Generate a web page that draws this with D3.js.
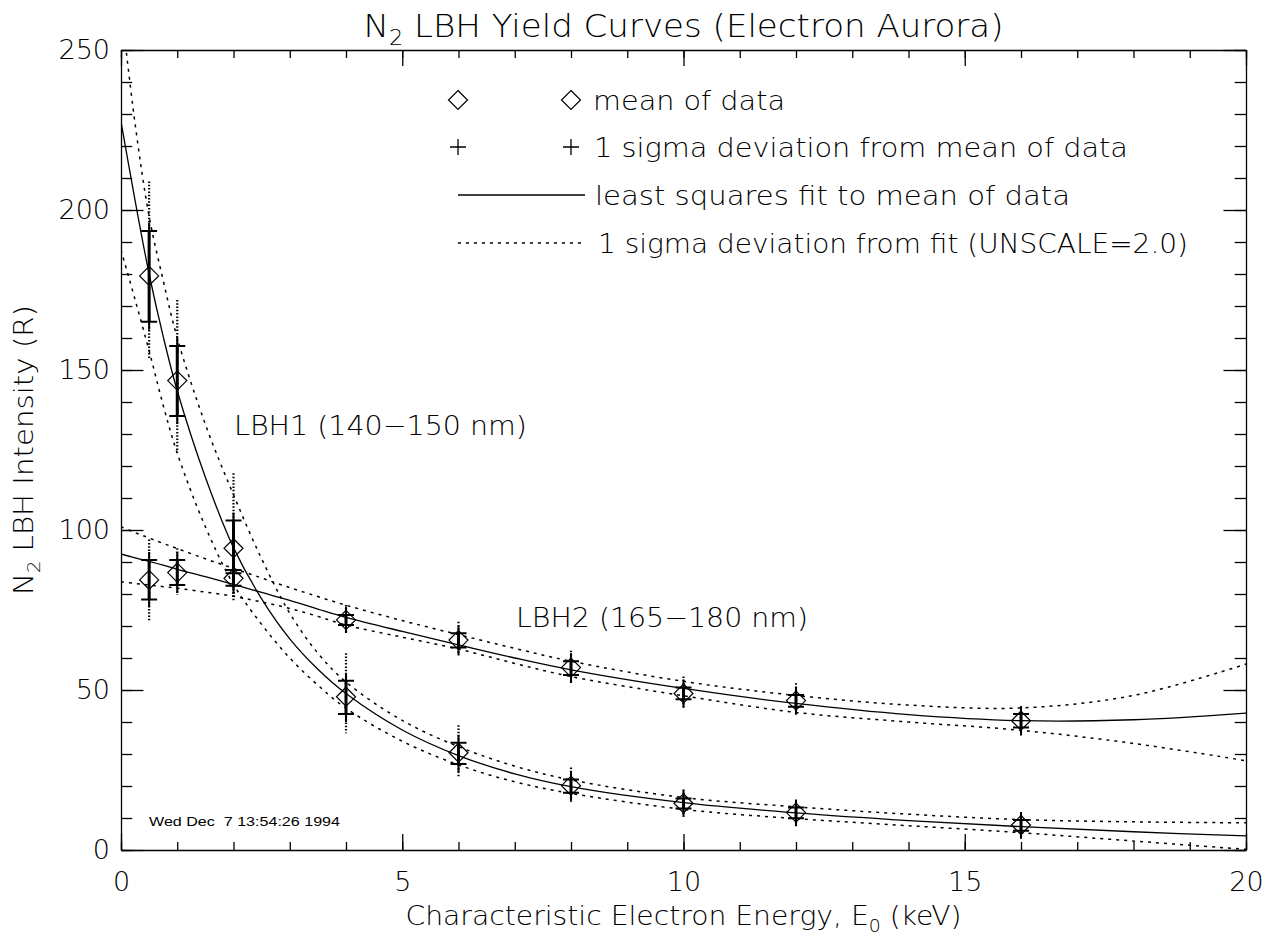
<!DOCTYPE html>
<html>
<head>
<meta charset="utf-8">
<script src="https://cdn.jsdelivr.net/npm/d3@7"></script>
<style>
  body { margin: 0; background: #fff; }
  svg text { font-family: "DejaVu Sans", "Liberation Sans", sans-serif; font-weight: 200; fill: #000; }
  .tick text { font-size: 27px; }
  .stamp { font-family: "Liberation Sans", sans-serif !important; font-weight: 400 !important; font-size: 13px; white-space: pre; }
</style>
</head>
<body>
<script>
// Size of the page and of the plot box
var width = 1275,
    height = 939;
var boxL = 121, boxR = 1246, boxT = 50, boxB = 850;

// Energies where the data were taken (keV)
var energies = [0.5, 1, 2, 4, 6, 8, 10, 12, 16];

// LBH1 (140-150 nm): mean, 1 sigma of data, and spread of the individual points
var lbh1Mean   = [179.4, 146.7, 94.3, 47.9, 30.4, 20.1, 14.6, 11.7, 7.8];
var lbh1SigHi  = [193.4, 157.5, 103.0, 52.9, 33.5, 22.0, 16.1, 13.3, 9.4];
var lbh1SigLo  = [165.1, 135.6, 86.5, 42.5, 26.9, 17.9, 13.0, 9.9, 6.0];
var lbh1DataHi = [208.9, 171.9, 117.7, 61.5, 39.0, 25.8, 18.9, 15.1, 10.9];
var lbh1DataLo = [153.7, 124.2, 78.0, 36.5, 22.9, 15.1, 10.4, 7.8, 4.2];

// LBH2 (165-180 nm)
var lbh2Mean   = [84.4, 86.7, 84.9, 71.9, 65.6, 57.0, 48.9, 46.7, 40.4];
var lbh2SigHi  = [90.6, 90.6, 87.5, 73.4, 67.7, 59.0, 50.8, 48.4, 42.5];
var lbh2SigLo  = [78.3, 82.8, 82.6, 70.3, 63.3, 54.7, 47.1, 44.8, 38.3];
var lbh2DataHi = [97.0, 94.3, 92.0, 76.6, 71.3, 62.3, 54.2, 52.1, 44.6];
var lbh2DataLo = [71.6, 79.7, 79.0, 68.0, 60.9, 52.6, 44.3, 42.5, 36.3];

// Fit curves at these energies
var fitX      = [0, 0.25, 0.5, 0.75, 1, 1.5, 2, 2.5, 3, 3.5, 4, 5, 6, 7, 8, 10, 12, 14, 16, 18, 20];
var lbh1Fit   = [227.6, 203, 180, 160.5, 143.5, 116.5, 94.5, 78.5, 66, 56.5, 48.9, 37.5, 29.5, 23.8, 19.8, 14.8, 11.6, 9.2, 7.3, 5.7, 4.4];
var lbh1FitHi = [264, 227, 198, 178, 160, 133, 111, 91, 74, 61.5, 52.5, 40.5, 32.3, 26.2, 21.9, 16.4, 13.5, 11.2, 9.5, 8.8, 8.5];
var lbh1FitLo = [187.5, 172, 156, 139, 124, 101, 83, 70.5, 60, 51.5, 44.3, 34, 26.6, 21.3, 17.7, 12.7, 9.8, 7.6, 5.4, 2.8, 0.2];
var lbh2Fit   = [92.5, 91.3, 90.2, 89, 87.7, 85.4, 83, 80.5, 78, 75.3, 72.7, 68.3, 64.1, 60, 56.3, 50.5, 45.8, 42.3, 40.4, 40.7, 42.8];
var lbh2FitHi = [101, 99.2, 97.5, 95.8, 94.2, 91, 88, 85, 82, 79.2, 76.5, 71.7, 67.3, 63, 59, 52.7, 48.3, 45.3, 44.4, 48.3, 58.1];
var lbh2FitLo = [83.8, 83.3, 82.8, 82.3, 81.8, 80.6, 79.3, 77.5, 75.5, 73, 70.3, 66.5, 62.8, 58.3, 54.2, 48.2, 43, 40, 37.4, 33.3, 27.9];

// Tick values
var xMajor = [0, 5, 10, 15, 20];
var yMajor = [0, 50, 100, 150, 200, 250];

// Legend entries
var legendText = ["mean of data", "1 sigma deviation from mean of data",
                  "least squares fit to mean of data", "1 sigma deviation from fit (UNSCALE=2.0)"];

var svg = d3.select("body")
    .append("svg")
    .attr("width", width)
    .attr("height", height);

var x = d3.scaleLinear().domain([0, 20]).range([boxL, boxR]);
var y = d3.scaleLinear().domain([0, 250]).range([boxB, boxT]);

// clip so the curves stop at the frame
svg.append("clipPath").attr("id", "box")
    .append("rect").attr("x", boxL).attr("y", boxT)
    .attr("width", boxR - boxL).attr("height", boxB - boxT);

// ---- axes: ticks on all four sides, pointing inward ----
var xLen = 0.02 * (boxB - boxT), yLen = 0.02 * (boxR - boxL);
var minorX = d3.range(0, 21, 1), minorY = d3.range(0, 251, 10);

function addAxis(axis, tx, ty) {
    var g = svg.append("g").attr("transform", "translate(" + tx + "," + ty + ")").call(axis);
    g.selectAll("path,line").attr("stroke", "#000").attr("stroke-width", 1.3);
    return g;
}
// bottom
addAxis(d3.axisBottom(x).tickValues(minorX).tickSize(-xLen / 2).tickFormat(""), 0, boxB).select(".domain").remove();
addAxis(d3.axisBottom(x).tickValues(xMajor).tickSize(-xLen).tickSizeOuter(0).tickPadding(22).tickFormat(d3.format("d")), 0, boxB);
// top
addAxis(d3.axisTop(x).tickValues(minorX).tickSize(-xLen / 2).tickFormat(""), 0, boxT).select(".domain").remove();
addAxis(d3.axisTop(x).tickValues(xMajor).tickSize(-xLen).tickSizeOuter(0).tickFormat(""), 0, boxT);
// left
addAxis(d3.axisLeft(y).tickValues(minorY).tickSize(-yLen / 2).tickFormat(""), boxL, 0).select(".domain").remove();
var yAx = addAxis(d3.axisLeft(y).tickValues(yMajor).tickSize(-yLen).tickSizeOuter(0).tickPadding(11).tickFormat(d3.format("d")), boxL, 0);
// right
addAxis(d3.axisRight(y).tickValues(minorY).tickSize(-yLen / 2).tickFormat(""), boxR, 0).select(".domain").remove();
addAxis(d3.axisRight(y).tickValues(yMajor).tickSize(-yLen).tickSizeOuter(0).tickFormat(""), boxR, 0);

svg.selectAll(".tick text").attr("font-family", null).attr("font-size", null);
yAx.selectAll(".tick text").attr("dy", "0.3em");

// ---- fit curves ----
var plot = svg.append("g").attr("clip-path", "url(#box)");
var line = d3.line().x(function(d) { return x(d[0]); }).y(function(d) { return y(d[1]); })
    .curve(d3.curveCatmullRom.alpha(0.5));
var dash = "3,5";

function drawCurve(vals, dotted) {
    plot.append("path")
        .attr("d", line(fitX.map(function(e, i) { return [e, vals[i]]; })))
        .attr("fill", "none")
        .attr("stroke", "#000")
        .attr("stroke-width", dotted ? 1.5 : 1.3)
        .attr("stroke-dasharray", dotted ? dash : null);
}
[lbh1FitHi, lbh1FitLo, lbh2FitHi, lbh2FitLo].forEach(function(v) { drawCurve(v, true); });
[lbh1Fit, lbh2Fit].forEach(function(v) { drawCurve(v, false); });

// ---- data: point columns, sigma pluses, mean diamonds ----
var diamond = "M0,-9.5L9.5,0L0,9.5L-9.5,0Z";
function plus(g, cx, cy, w) {
    g.append("path").attr("d", "M" + (cx - 8) + "," + cy + "H" + (cx + 8) + "M" + cx + "," + (cy - 8) + "V" + (cy + 8))
        .attr("stroke", "#000").attr("stroke-width", w).attr("fill", "none");
}

function drawSeries(mean, sHi, sLo, dHi, dLo) {
    var g = plot.append("g");
    energies.forEach(function(e, i) {
        var cx = x(e);
        // all the individual points: dotted column
        g.append("line").attr("x1", cx).attr("x2", cx).attr("y1", y(dHi[i])).attr("y2", y(dLo[i]))
            .attr("stroke", "#000").attr("stroke-width", 2.2).attr("stroke-dasharray", "1.5,1.8");
        // dense core of points between the sigma marks
        g.append("line").attr("x1", cx).attr("x2", cx).attr("y1", y(sHi[i])).attr("y2", y(sLo[i]))
            .attr("stroke", "#000").attr("stroke-width", 3);
        plus(g, cx, y(sHi[i]), 2);
        plus(g, cx, y(sLo[i]), 2);
        g.append("path").attr("d", diamond)
            .attr("transform", "translate(" + cx + "," + y(mean[i]) + ")")
            .attr("fill", "none").attr("stroke", "#000").attr("stroke-width", 1.2);
    });
}
drawSeries(lbh1Mean, lbh1SigHi, lbh1SigLo, lbh1DataHi, lbh1DataLo);
drawSeries(lbh2Mean, lbh2SigHi, lbh2SigLo, lbh2DataHi, lbh2DataLo);

// ---- legend ----
var lx1 = 458, lx2 = 571, ly = [100, 147, 195, 243];
var leg = svg.append("g");
leg.selectAll("path.dm").data([lx1, lx2]).enter().append("path")
    .attr("d", diamond).attr("transform", function(d) { return "translate(" + d + "," + ly[0] + ")"; })
    .attr("fill", "none").attr("stroke", "#000").attr("stroke-width", 1.2);
plus(leg, lx1, ly[1], 1.3);
plus(leg, lx2, ly[1], 1.3);
leg.append("line").attr("x1", lx1).attr("x2", lx2 + 14).attr("y1", ly[2]).attr("y2", ly[2])
    .attr("stroke", "#000").attr("stroke-width", 1.3);
leg.append("line").attr("x1", lx1).attr("x2", lx2 + 14).attr("y1", ly[3]).attr("y2", ly[3])
    .attr("stroke", "#000").attr("stroke-width", 1.5).attr("stroke-dasharray", dash);
var legX = [593, 594, 595, 598], legW = [192, 534, 475, 590];
leg.selectAll("text").data(legendText).enter().append("text")
    .attr("x", function(d, i) { return legX[i]; })
    .attr("y", function(d, i) { return ly[i] + 10; })
    .attr("font-size", 27)
    .attr("textLength", function(d, i) { return legW[i]; })
    .attr("lengthAdjust", "spacingAndGlyphs")
    .text(function(d) { return d; });

// ---- labels ----
svg.append("text").attr("x", 234).attr("y", 435).attr("font-size", 27)
    .attr("textLength", 293).attr("lengthAdjust", "spacingAndGlyphs").text("LBH1 (140\u2212150 nm)");
svg.append("text").attr("x", 516).attr("y", 627).attr("font-size", 27)
    .attr("textLength", 292).attr("lengthAdjust", "spacingAndGlyphs").text("LBH2 (165\u2212180 nm)");

var title = svg.append("text").attr("x", (boxL + boxR) / 2).attr("y", 37)
    .attr("text-anchor", "middle").attr("font-size", 32)
    .attr("textLength", 640).attr("lengthAdjust", "spacingAndGlyphs");
title.append("tspan").text("N");
title.append("tspan").attr("dy", 8).attr("font-size", 21).text("2");
title.append("tspan").attr("dy", -8).text(" LBH Yield Curves (Electron Aurora)");

var xl = svg.append("text").attr("x", (boxL + boxR) / 2).attr("y", 925)
    .attr("text-anchor", "middle").attr("font-size", 27)
    .attr("textLength", 556).attr("lengthAdjust", "spacingAndGlyphs");
xl.append("tspan").text("Characteristic Electron Energy, E");
xl.append("tspan").attr("dy", 7).attr("font-size", 18).text("0");
xl.append("tspan").attr("dy", -7).text(" (keV)");

var yl = svg.append("text").attr("transform", "translate(33," + ((boxT + boxB) / 2) + ") rotate(-90)")
    .attr("text-anchor", "middle").attr("font-size", 27)
    .attr("textLength", 290).attr("lengthAdjust", "spacingAndGlyphs");
yl.append("tspan").text("N");
yl.append("tspan").attr("dy", 7).attr("font-size", 18).text("2");
yl.append("tspan").attr("dy", -7).text(" LBH Intensity (R)");

svg.append("text").attr("class", "stamp").attr("x", 149).attr("y", 826)
    .attr("textLength", 191).attr("lengthAdjust", "spacingAndGlyphs")
    .text("Wed Dec  7 13:54:26 1994");
</script>
</body>
</html>
